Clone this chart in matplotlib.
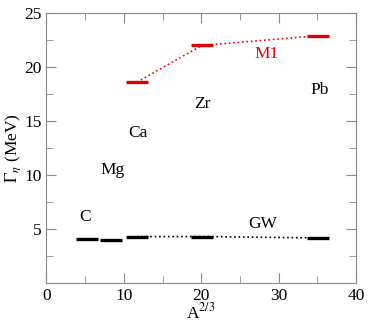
#!/usr/bin/env python3
"""Width Gamma_eta versus A^(2/3): GW and M1 bars."""

import matplotlib

matplotlib.use("Agg")
import matplotlib.pyplot as plt

# nuclei and their A^(2/3) positions
nuclei = ["C", "Mg", "Ca", "Zr", "Pb"]
a23 = [5.24, 8.32, 11.70, 20.08, 35.10]

# GW widths (MeV)
gw = [4.10, 3.98, 4.29, 4.30, 4.17]

# M1 widths (MeV), only Ca, Zr, Pb
m1_x = [11.70, 20.08, 35.10]
m1 = [18.60, 22.00, 22.90]

# label anchors
label_x = [5.0, 8.6, 11.8, 20.2, 35.3]
label_y = [6.1, 10.5, 13.9, 16.6, 17.9]

plt.rcParams["font.family"] = ["Liberation Serif", "DejaVu Serif"]
plt.rcParams["mathtext.fontset"] = "stix"

fig = plt.figure(figsize=(3.74, 3.26), dpi=100)
ax = fig.add_axes([0.124, 0.132, 0.828, 0.828])

# dotted connecting lines behind the bars
ax.plot(a23[2:], gw[2:], ls=":", color="black", lw=1.2, zorder=1)
ax.plot(m1_x, m1, ls=":", color="red", lw=1.2, zorder=1)

# horizontal bars
ax.plot(a23, gw, ls="none", marker="_", ms=15.5, mew=2.4, color="black", zorder=2)
ax.plot(m1_x, m1, ls="none", marker="_", ms=15.5, mew=2.4, color="#dd0000", zorder=2)

fs = 12.5
for name, x, y in zip(nuclei, label_x, label_y):
    ax.text(x, y, name, ha="center", va="center", fontsize=fs)
ax.text(28.4, 21.2, "M1", ha="center", va="center", fontsize=fs, color="#dd0000")
ax.text(28.0, 5.5, "GW", ha="center", va="center", fontsize=fs)

ax.set_xlim(0, 40)
ax.set_ylim(0, 25)
ax.set_xticks([0, 10, 20, 30, 40])
ax.set_xticks([5, 15, 25, 35], minor=True)
ax.set_yticks([5, 10, 15, 20, 25])
ax.set_yticks([2.5, 7.5, 12.5, 17.5, 22.5], minor=True)
ax.tick_params(which="both", direction="in", top=True, right=True, color="#888888")
ax.tick_params(which="major", length=7, labelsize=fs)
ax.tick_params(which="minor", length=5)
for s in ax.spines.values():
    s.set_color("#888888")

ax.set_xlabel(r"A$^{2/3}$", fontsize=fs, labelpad=-1)
ax.set_ylabel(r"$\mathrm{\Gamma}_{\eta}$ (MeV)", fontsize=fs, labelpad=1)

fig.savefig("out.png", dpi=100)
